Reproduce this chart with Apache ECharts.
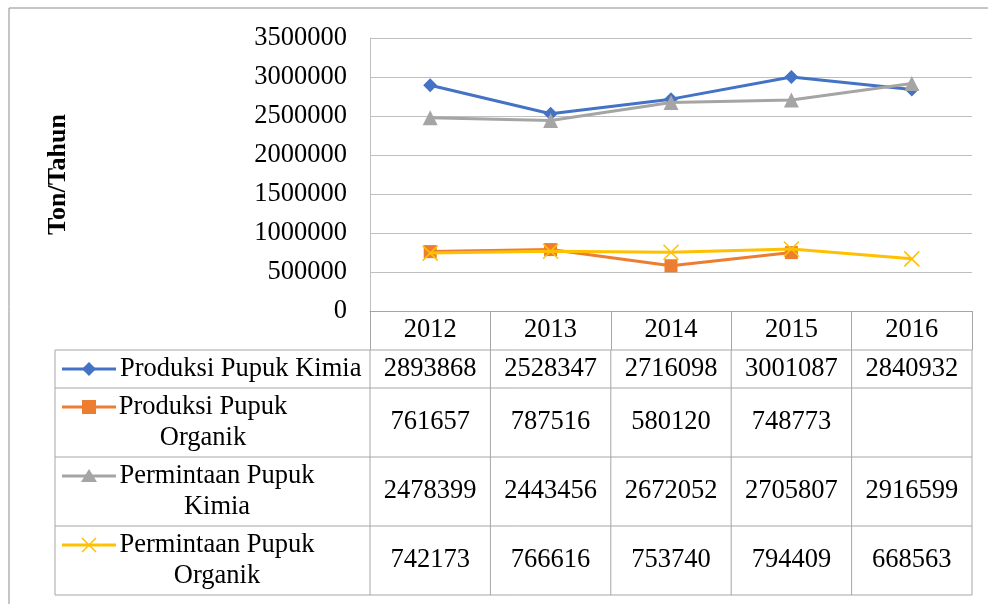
<!DOCTYPE html>
<html>
<head>
<meta charset="utf-8">
<script src="https://cdn.jsdelivr.net/npm/echarts@6/dist/echarts.min.js"></script>
<style>
html,body{margin:0;padding:0;background:#fff}
#chart{width:988px;height:604px}
</style>
</head>
<body>
<div id="chart"></div>
<script>
const years = ['2012', '2013', '2014', '2015', '2016'];
const seriesNames = ['Produksi Pupuk Kimia', 'Produksi Pupuk Organik', 'Permintaan Pupuk Kimia', 'Permintaan Pupuk Organik'];
const tableLabels = ['Produksi Pupuk Kimia', 'Produksi Pupuk\nOrganik', 'Permintaan Pupuk\nKimia', 'Permintaan Pupuk\nOrganik'];
const produksiKimia = [2893868, 2528347, 2716098, 3001087, 2840932];
const produksiOrganik = [761657, 787516, 580120, 748773, null];
const permintaanKimia = [2478399, 2443456, 2672052, 2705807, 2916599];
const permintaanOrganik = [742173, 766616, 753740, 794409, 668563];
const yTicks = [0, 500000, 1000000, 1500000, 2000000, 2500000, 3000000, 3500000];

const FONT = "'Liberation Serif', 'Times New Roman', serif";
const FS = 26.5;
const COLORS = ['#4472c4', '#ed7d31', '#a5a5a5', '#ffc000'];
const SYMBOLS = ['diamond', 'rect', 'triangle', 'path://M0,0L10,10M10,0L0,10'];
const SIZES = [14, 13, 15, 15];
const allData = [produksiKimia, produksiOrganik, permintaanKimia, permintaanOrganik];

// layout of plot + data table
const gridLeft = 370, gridRight = 972, gridTop = 38, gridBottom = 311;
const colW = (gridRight - gridLeft) / years.length;
const rowTops = [350, 388, 457, 526, 595];
const tableLeft = 55;
const labelPos = [{x: 120, align: 'left'}, {x: 203, align: 'center'}, {x: 217, align: 'center'}, {x: 217, align: 'center'}];
const lineGray = '#a6a6a6';

const myChart = echarts.init(document.getElementById('chart'));

const graphics = [];
// outer chart border
graphics.push({type: 'rect', shape: {x: 9, y: 8, width: 1000, height: 700}, style: {fill: 'none', stroke: '#8c8c8c', lineWidth: 1}, silent: true, z: 0});
// horizontal table lines
rowTops.forEach(y => {
    graphics.push({type: 'line', shape: {x1: tableLeft, y1: y, x2: gridRight, y2: y}, style: {stroke: lineGray, lineWidth: 1}});
});
// vertical table lines
const vx = [tableLeft];
for (let i = 0; i <= years.length; i++) vx.push(gridLeft + i * colW);
vx.forEach(x => {
    graphics.push({type: 'line', shape: {x1: x, y1: rowTops[0], x2: x, y2: rowTops[rowTops.length - 1]}, style: {stroke: lineGray, lineWidth: 1}});
});

function keySymbol(i, cx, cy) {
    const c = COLORS[i];
    if (i === 0) return {type: 'polygon', shape: {points: [[cx, cy - 7], [cx + 7, cy], [cx, cy + 7], [cx - 7, cy]]}, style: {fill: c}};
    if (i === 1) return {type: 'rect', shape: {x: cx - 7, y: cy - 7, width: 14, height: 14}, style: {fill: c}};
    if (i === 2) return {type: 'polygon', shape: {points: [[cx, cy - 7], [cx + 8, cy + 6], [cx - 8, cy + 6]]}, style: {fill: c}};
    return {type: 'polyline', shape: {points: [[cx - 7, cy - 7], [cx + 7, cy + 7], [cx, cy], [cx + 7, cy - 7], [cx - 7, cy + 7]]}, style: {stroke: c, lineWidth: 1.5, fill: 'none'}};
}

seriesNames.forEach((name, i) => {
    const top = rowTops[i], bottom = rowTops[i + 1];
    const mid = (top + bottom) / 2;
    const twoLines = tableLabels[i].indexOf('\n') >= 0;
    const keyY = twoLines ? top + 19 : mid;
    graphics.push({type: 'line', shape: {x1: 62, y1: keyY, x2: 116, y2: keyY}, style: {stroke: COLORS[i], lineWidth: 3}});
    graphics.push(keySymbol(i, 89, keyY));
    graphics.push({type: 'text', x: labelPos[i].x, y: mid, style: {text: tableLabels[i], font: FS + 'px ' + FONT, fill: '#000', align: labelPos[i].align, verticalAlign: 'middle', lineHeight: 31}});
    allData[i].forEach((v, j) => {
        if (v == null) return;
        graphics.push({type: 'text', x: gridLeft + (j + 0.5) * colW, y: mid, style: {text: String(v), font: FS + 'px ' + FONT, fill: '#000', align: 'center', verticalAlign: 'middle'}});
    });
});

myChart.setOption({
    backgroundColor: '#ffffff',
    animation: false,
    grid: {left: gridLeft, right: 988 - gridRight, top: gridTop, bottom: 604 - gridBottom},
    xAxis: {
        type: 'category', data: years, boundaryGap: true,
        axisLine: {lineStyle: {color: lineGray, width: 1}},
        axisTick: {show: true, length: rowTops[0] - gridBottom, lineStyle: {color: lineGray}},
        axisLabel: {color: '#000', fontSize: FS, fontFamily: FONT, margin: 6}
    },
    yAxis: {
        type: 'value', min: yTicks[0], max: yTicks[yTicks.length - 1], interval: yTicks[1] - yTicks[0],
        name: 'Ton/Tahun', nameLocation: 'middle', nameRotate: 90, nameGap: 299,
        nameTextStyle: {fontSize: 26, fontWeight: 'bold', fontFamily: FONT, color: '#000'},
        axisLine: {show: true, lineStyle: {color: '#bfbfbf'}},
        axisTick: {show: false},
        splitLine: {lineStyle: {color: '#bfbfbf', width: 1}},
        axisLabel: {color: '#000', fontSize: FS, fontFamily: FONT, margin: 23, formatter: v => String(v)}
    },
    series: seriesNames.map((name, i) => ({
        name: name, type: 'line', data: allData[i],
        symbol: SYMBOLS[i], symbolSize: SIZES[i], showSymbol: true,
        lineStyle: {color: COLORS[i], width: 3},
        itemStyle: i === 3 ? {color: COLORS[i], borderColor: COLORS[i], borderWidth: 1.5} : {color: COLORS[i]},
        connectNulls: false, z: 2 + i
    })),
    graphic: graphics
});
</script>
</body>
</html>
